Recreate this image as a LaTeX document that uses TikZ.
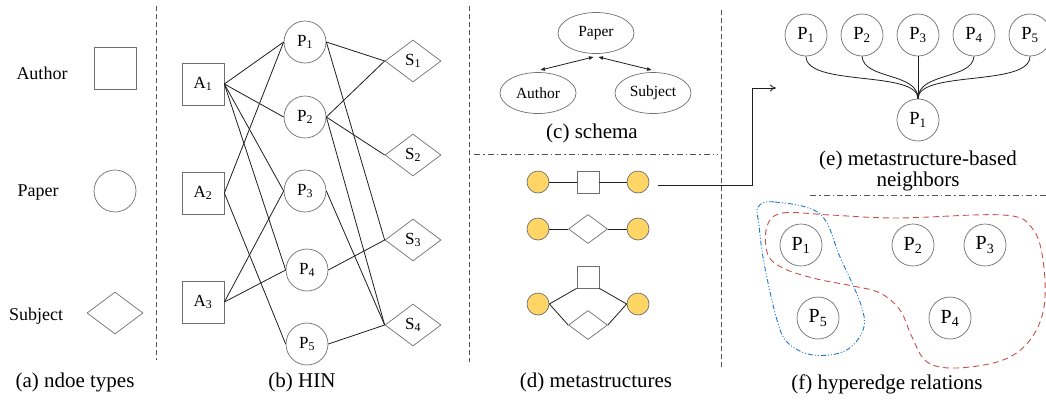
\documentclass[tikz,border=0pt]{standalone}
\usepackage{fontspec}
\setmainfont{Liberation Serif}
\usetikzlibrary{shapes.geometric,arrows.meta}
\definecolor{ngray}{RGB}{110,110,110}
\definecolor{edgec}{RGB}{30,30,30}
\definecolor{sepc}{RGB}{85,85,85}
\definecolor{yel}{RGB}{255,214,102}
\definecolor{hblue}{RGB}{30,120,200}
\definecolor{hred}{RGB}{200,80,75}
\begin{document}
\begin{tikzpicture}[x=1pt,y=-1pt,
  nd/.style={draw=ngray, line width=0.7pt, inner sep=0pt},
  lab/.style={font=\fontsize{17}{17}\selectfont},
  sq/.style={nd, rectangle, minimum size=42pt, lab},
  ci/.style={nd, circle, minimum size=42pt, lab},
  di/.style={nd, diamond, aspect=1.333, minimum width=56pt, minimum height=42pt, lab},
  ed/.style={draw=edgec, line width=0.8pt},
  sep/.style={draw=sepc, line width=0.8pt, dash pattern=on 5pt off 3pt},
  sepdd/.style={draw=sepc, line width=0.8pt, dash pattern=on 6pt off 3pt on 1.5pt off 3pt},
  captxt/.style={font=\fontsize{21}{21}\selectfont},
  tlab/.style={font=\fontsize{18}{18}\selectfont},
  ell/.style={nd, ellipse, minimum width=76pt, minimum height=41pt, font=\fontsize{15.5}{15.5}\selectfont},
  yc/.style={draw=ngray, fill=yel, line width=0.7pt, circle, minimum size=22pt, inner sep=0pt},
  msq/.style={nd, rectangle, minimum size=22pt},
  mdi/.style={nd, diamond, aspect=1.345, minimum width=39pt, minimum height=29pt},
  eci/.style={nd, circle, minimum size=42pt, font=\fontsize{18.5}{18.5}\selectfont},
  fci/.style={nd, circle, minimum size=42pt, font=\fontsize{20}{20}\selectfont},
  schar/.style={draw=edgec, line width=0.8pt, {Latex[length=5pt,width=4pt]}-{Latex[length=5pt,width=4pt]}}
]
\useasboundingbox (0,0) rectangle (1046,400);

% ---------- (a) node types
\node[tlab] (tA) at (42,73) {Author};
\node[tlab] (tP) at (38,193) {Paper};
\node[tlab] (tS) at (36,316) {Subject};
\node[sq] (kA) at (115,68) {};
\node[ci] (kP) at (115,191) {};
\node[di] (kS) at (115,313) {};
\node[captxt] (ca) at (75,382) {(a) ndoe types};

% separators
\coordinate (s1t) at (156,6); \coordinate (s1b) at (156,360);
\draw[sep] (s1t) -- (s1b);
\coordinate (s2t) at (469,6); \coordinate (s2b) at (469,362);
\draw[sep] (s2t) -- (s2b);
\coordinate (s3t) at (721,10); \coordinate (s3b) at (721,368);
\draw[sep] (s3t) -- (s3b);
\coordinate (h1l) at (474,154); \coordinate (h1r) at (718,154);
\draw[sepdd] (h1l) -- (h1r);
\coordinate (h2l) at (810,195); \coordinate (h2r) at (1046,195);
\draw[sepdd] (h2l) -- (h2r);

% ---------- (b) HIN
\node[sq] (A1) at (203,84) {A\textsubscript{1}};
\node[sq] (A2) at (203,193) {A\textsubscript{2}};
\node[sq] (A3) at (203,302) {A\textsubscript{3}};
\node[ci] (P1) at (305,42) {P\textsubscript{1}};
\node[ci] (P2) at (305,117) {P\textsubscript{2}};
\node[ci] (P3) at (305,191) {P\textsubscript{3}};
\node[ci] (P4) at (307,270) {P\textsubscript{4}};
\node[ci] (P5) at (307,344) {P\textsubscript{5}};
\node[di] (S1) at (413,61) {S\textsubscript{1}};
\node[di] (S2) at (413,155) {S\textsubscript{2}};
\node[di] (S3) at (413,240) {S\textsubscript{3}};
\node[di] (S4) at (413,325) {S\textsubscript{4}};
\foreach \a/\p in {A1/P1,A1/P2,A1/P3,A1/P4,A2/P1,A2/P5,A3/P3,A3/P4}
  \draw[ed] (\a.east) -- (\p.west);
\foreach \p/\s in {P1/S1,P1/S3,P2/S1,P2/S2,P2/S4,P3/S4,P4/S3,P5/S4}
  \draw[ed] (\p.east) -- (\s.west);
\node[captxt] (cb) at (302,382) {(b) HIN};

% ---------- (c) schema
\node[ell] (cP) at (596,33) {Paper};
\node[ell] (cA) at (538,93) {Author};
\node[ell] (cS) at (653,93) {Subject};
\draw[schar] ([xshift=-2pt,yshift=-3pt]cP.south) -- ([xshift=2pt,yshift=2pt]cA.north);
\draw[schar] ([xshift=2pt,yshift=-3pt]cP.south) -- ([xshift=-1pt,yshift=2pt]cS.north);
\node[captxt] (cc) at (592,133) {(c) schema};

% ---------- (d) metastructures
\node[yc] (m1l) at (538,182) {};
\node[msq] (m1m) at (588,182) {};
\node[yc] (m1r) at (638,182) {};
\draw[ed] (m1l) -- (m1m); \draw[ed] (m1m) -- (m1r);
\node[yc] (m2l) at (538,229) {};
\node[mdi] (m2m) at (588,229) {};
\node[yc] (m2r) at (638,229) {};
\draw[ed] (m2l) -- (m2m.west); \draw[ed] (m2m.east) -- (m2r);
\node[yc] (m3l) at (538,304) {};
\node[msq] (m3s) at (588,277) {};
\node[mdi] (m3d) at (588,325) {};
\node[yc] (m3r) at (638,304) {};
\draw[ed] (m3l.east) -- (m3s.south west);
\draw[ed] (m3l.east) -- (m3d.west);
\draw[ed] (m3s.south east) -- (m3r.west);
\draw[ed] (m3d.east) -- (m3r.west);
\node[captxt] (cd) at (596,382) {(d) metastructures};

% arrow to (e)
\coordinate (ar0) at (658,185);
\coordinate (ar1) at (776,88);
\draw[ed, -{To[length=6pt,width=7pt]}] (ar0) -- (752,185) -- (752,88) -- (ar1);

% ---------- (e) neighbors
\node[eci] (T1) at (806,35) {P\textsubscript{1}};
\node[eci] (T2) at (862,35) {P\textsubscript{2}};
\node[eci] (T3) at (918,35) {P\textsubscript{3}};
\node[eci] (T4) at (974,35) {P\textsubscript{4}};
\node[eci] (T5) at (1030,35) {P\textsubscript{5}};
\node[eci] (B1) at (918,120) {P\textsubscript{1}};
\draw[ed] (T1.south) .. controls (806,87) and (918,70) .. (B1.north);
\draw[ed] (T2.south) .. controls (864,80) and (918,72) .. (B1.north);
\draw[ed] (T3.south) -- (B1.north);
\draw[ed] (T4.south) .. controls (972,80) and (918,72) .. (B1.north);
\draw[ed] (T5.south) .. controls (1030,87) and (918,70) .. (B1.north);
\node[captxt] (ce1) at (918,160) {(e) metastructure-based};
\node[captxt] (ce2) at (918,181) {neighbors};

% ---------- (f) hyperedges
\node[fci] (F1) at (801,245) {P\textsubscript{1}};
\node[fci] (F2) at (913,245) {P\textsubscript{2}};
\node[fci] (F3) at (985,245) {P\textsubscript{3}};
\node[fci] (F5) at (818,318) {P\textsubscript{5}};
\node[fci] (F4) at (950,318) {P\textsubscript{4}};
\draw[hblue, line width=0.9pt, dash pattern=on 5pt off 2pt on 1pt off 2pt on 1pt off 2pt]
  plot[smooth cycle, tension=0.6] coordinates {(758,207) (775,202) (820,214) (840,257) (861,305) (863,330) (845,351) (813,355) (788,343) (777,320) (764,263) (759,225)};
\draw[hred, line width=0.9pt, dash pattern=on 6pt off 4pt]
  plot[smooth cycle, tension=0.6] coordinates {(767,226) (783,213) (830,215) (897,218) (1003,215) (1032,228) (1043,260) (1044,307) (1030,340) (1003,360) (957,368) (927,362) (912,337) (900,310) (880,293) (853,286) (817,279) (785,269) (768,255)};
\node[captxt] (cf) at (887,384) {(f) hyperedge relations};
\end{tikzpicture}
\end{document}
